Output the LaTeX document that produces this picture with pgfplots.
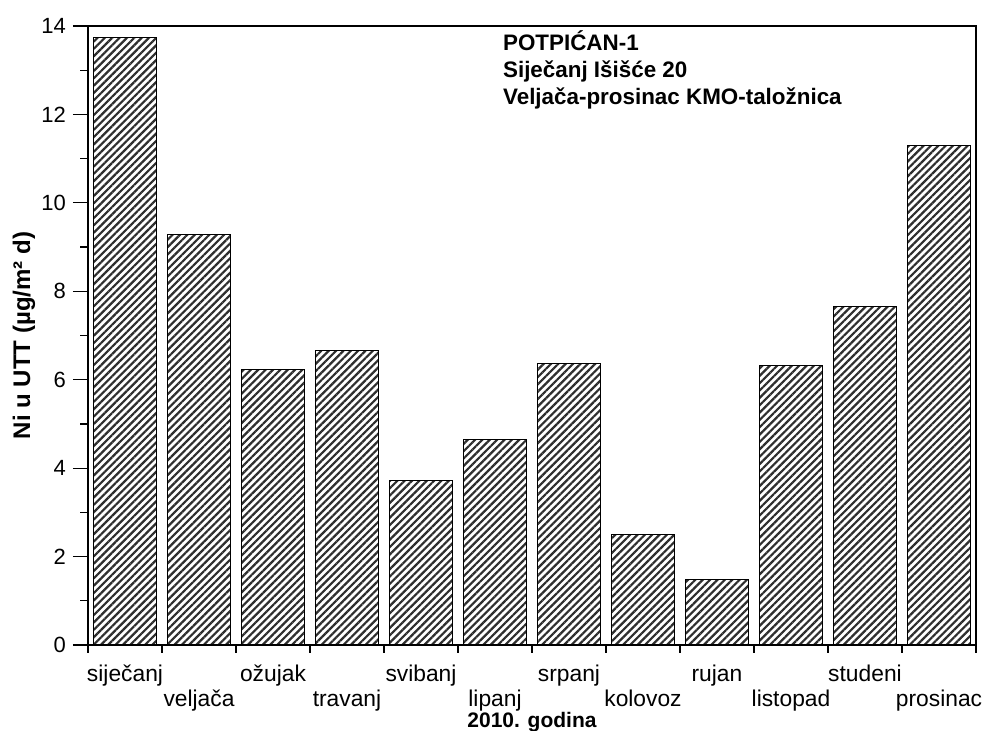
\documentclass[border=0pt]{standalone}
\usepackage{pgfplots}
\pgfplotsset{compat=1.18}
\usepackage{fontspec}
\setmainfont{Liberation Sans}
\usetikzlibrary{patterns.meta}

\definecolor{stripe}{HTML}{2E2E2E}

\begin{document}
\begin{tikzpicture}
\begin{axis}[
    width=444pt, height=309.5pt, scale only axis,
    xmin=-0.5, xmax=11.5,
    ymin=0, ymax=14,
    axis line style={black, line width=0.6pt},
    tick align=outside,
    xtick pos=bottom, ytick pos=left,
    major tick length=7.5pt, minor tick length=3.8pt,
    every tick/.style={black, line width=0.6pt},
    ytick={0,2,...,14},
    minor ytick={1,3,...,13},
    xtick={0,2,...,10},
    xticklabels={siječanj,ožujak,svibanj,srpanj,rujan,studeni},
    extra x ticks={1,3,...,11},
    extra x tick labels={veljača,travanj,lipanj,kolovoz,listopad,prosinac},
    extra x tick style={xticklabel style={yshift=-12.5pt}},
    minor xtick={-0.5,0.5,...,11.5},
    major x tick style={draw=none},
    /pgf/number format/assume math mode=true,
    yticklabel style={font=\fontsize{11}{13}\selectfont},
    xticklabel style={font=\fontsize{11.4}{13}\selectfont, yshift=1pt},
    xlabel={2010. godina},
    xlabel style={font=\bfseries\fontsize{10.5}{12}\selectfont, at={(axis description cs:0.5,0)}, anchor=base, yshift=-41.5pt},
    ylabel={Ni u UTT (µg/m² d)},
    ylabel style={font=\bfseries\fontsize{12}{14}\selectfont, at={([xshift=-32pt]axis description cs:0,0.5)}, anchor=center},
]
\addplot[ybar, bar width=0.86, draw=black, line width=0.5pt,
    pattern={Lines[angle=45, distance=2.6pt, line width=1.1pt]}, pattern color=stripe]
    coordinates {
    (0,13.73) (1,9.29) (2,6.24) (3,6.65) (4,3.73) (5,4.64)
    (6,6.36) (7,2.51) (8,1.49) (9,6.31) (10,7.65) (11,11.29)
    };
\node[anchor=north west, align=left, inner sep=0pt,
    font=\bfseries\fontsize{11.2}{13.5}\selectfont]
    at (rel axis cs:0.467,0.993)
    {POTPIĆAN-1\\Siječanj Išišće 20\\Veljača-prosinac KMO-taložnica};
\end{axis}
\pgfresetboundingbox
\path (-44pt,-43pt) rectangle (448.5pt,322.5pt);
\end{tikzpicture}
\end{document}
